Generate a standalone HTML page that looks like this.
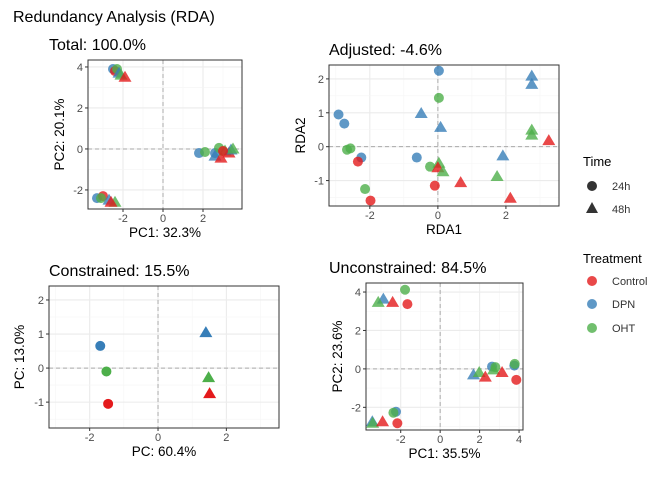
<!DOCTYPE html>
<html><head><meta charset="utf-8"><style>
body{margin:0;background:#fff;}
svg text{font-family:"Liberation Sans",sans-serif;}
</style></head><body>
<svg id="c" width="672" height="480" xmlns="http://www.w3.org/2000/svg">
<text x="13" y="22" font-size="16" fill="#000">Redundancy Analysis (RDA)</text>
<g>
<text x="583" y="166" font-size="13">Time</text>
<circle cx="592" cy="186" r="5" fill="#333"/>
<text x="612" y="190" font-size="11" fill="#333">24h</text>
<polygon points="592,202 598,213 586,213" fill="#333"/>
<text x="612" y="213" font-size="11" fill="#333">48h</text>
<text x="583" y="263" font-size="13">Treatment</text>
<circle cx="592" cy="281" r="5" fill="#E41A1C" fill-opacity="0.8"/>
<text x="612" y="285" font-size="11" fill="#333">Control</text>
<circle cx="592" cy="304" r="5" fill="#377EB8" fill-opacity="0.8"/>
<text x="612" y="308" font-size="11" fill="#333">DPN</text>
<circle cx="592" cy="328" r="5" fill="#4DAF4A" fill-opacity="0.8"/>
<text x="612" y="332" font-size="11" fill="#333">OHT</text>
</g>
</svg>
<script>
// C=Control, D=DPN, O=OHT ; time 24 circle, 48 triangle
const totalX=[-2.5,-2.4,-2.3,-2.2,-2.1,-1.9, 1.8,2.1,2.6,2.8,2.6,2.9,3.1,3.3,3.4,3.5,3.0, -3.3,-3.0,-3.1,-2.7,-2.4,-2.6];
const totalY=[3.9,3.8,3.9,3.7,3.6,3.5, -0.2,-0.15,-0.2,0.05,-0.35,-0.45,-0.1,-0.2,-0.05,0.0,-0.1, -2.4,-2.3,-2.4,-2.5,-2.6,-2.6];
const totalT=["D","C","O","D","O","C","D","O","D","O","D","C","O","C","D","O","C","D","C","O","D","O","C"];
const totalH=[24,24,24,48,48,48,24,24,24,24,48,48,48,48,48,48,24,24,24,24,48,48,48];
const adjX=[0.03,0.03,-2.92,-2.75,-0.49,0.08,2.76,2.76,2.76,2.76,3.26,-2.67,-2.57,-2.25,-2.35,-0.62,-0.23,0.03,0,0.15,1.91,1.74,0.67,-0.09,-2.14,-1.98,2.13];
const adjY=[2.24,1.44,0.95,0.68,0.98,0.57,2.08,1.84,0.49,0.34,0.18,-0.09,-0.05,-0.32,-0.44,-0.32,-0.59,-0.49,-0.62,-0.74,-0.27,-0.88,-1.06,-1.15,-1.25,-1.59,-1.52];
const adjT=["D","O","D","D","D","D","D","D","O","O","C","O","O","D","C","D","O","O","C","O","D","O","C","C","O","C","C"];
const adjH=[24,24,24,24,48,48,48,48,48,48,48,24,24,24,24,24,24,48,48,48,48,48,48,24,24,24,48];
const conX=[-1.69,-1.51,-1.46,1.4,1.48,1.51];
const conY=[0.65,-0.1,-1.05,1.04,-0.28,-0.75];
const conT=["D","O","C","D","O","C"];
const conH=[24,24,24,48,48,48];
const uncX=[-1.78,-1.66,-2.88,-3.14,-2.41,-2.24,-2.37,-2.17,-3.44,-3.42,-2.92,1.69,1.98,2.29,2.63,2.8,2.71,3.14,3.76,3.78,3.86];
const uncY=[4.12,3.37,3.63,3.46,3.46,-2.23,-2.28,-2.83,-2.75,-2.83,-2.75,-0.31,-0.19,-0.43,0.12,0.09,-0.05,-0.19,0.17,0.26,-0.57];
const uncT=["O","C","D","O","C","D","O","C","D","O","C","D","O","C","D","O","O","C","D","O","C"];
const uncH=[24,24,48,48,48,24,24,24,48,48,48,48,48,48,24,24,48,48,24,24,24];
const colors={C:"#E41A1C",D:"#377EB8",O:"#4DAF4A"};
const NS="http://www.w3.org/2000/svg";
const svg=document.getElementById('c');
function mk(tag,at,parent){const e=document.createElementNS(NS,tag);for(const k in at)e.setAttribute(k,at[k]);(parent||svg).appendChild(e);return e;}
function panel(p){
  const g=mk('g',{});
  
  
  const sx=v=>p.x0+(v-p.xr[0])/(p.xr[1]-p.xr[0])*(p.x1-p.x0);
  const sy=v=>p.y1-(v-p.yr[0])/(p.yr[1]-p.yr[0])*(p.y1-p.y0);
  const t=mk('text',{x:p.tx,y:p.y0-10,'font-size':16},g);t.textContent=p.title;
  
  
  mk('rect',{x:p.x0,y:p.y0,width:p.x1-p.x0,height:p.y1-p.y0,fill:'#fff'},g);
  const xs=p.xb, ys=p.yb;
  const step=xs[1]-xs[0], ystep=ys[1]-ys[0];
  for(let v=xs[0]-step*2;v<=xs[xs.length-1]+step*2;v+=step/2){const X=sx(v);if(X>p.x0&&X<p.x1){const major=Math.abs(v/step-Math.round(v/step))<1e-6;mk('line',{x1:X,x2:X,y1:p.y0,y2:p.y1,stroke:major?'#EBEBEB':'#F5F5F5','stroke-width':major?1.1:0.6},g);}}
  for(let v=ys[0]-ystep*2;v<=ys[ys.length-1]+ystep*2;v+=ystep/2){const Y=sy(v);if(Y>p.y0&&Y<p.y1){const major=Math.abs(v/ystep-Math.round(v/ystep))<1e-6;mk('line',{x1:p.x0,x2:p.x1,y1:Y,y2:Y,stroke:major?'#EBEBEB':'#F5F5F5','stroke-width':major?1.1:0.6},g);}}
  mk('line',{x1:sx(0),x2:sx(0),y1:p.y0,y2:p.y1,stroke:'#aaa','stroke-dasharray':'4,3'},g);
  mk('line',{x1:p.x0,x2:p.x1,y1:sy(0),y2:sy(0),stroke:'#aaa','stroke-dasharray':'4,3'},g);
  for(let i=0;i<p.X.length;i++){
    const X=sx(p.X[i]),Y=sy(p.Y[i]),c=colors[p.T[i]];
    let e;
    if(p.H[i]===24) e=mk('circle',{cx:X,cy:Y,r:5,fill:c,'fill-opacity':p.op},g);
    else e=mk('polygon',{points:`${X},${Y-6.5} ${X+6.5},${Y+4.5} ${X-6.5},${Y+4.5}`,fill:c,'fill-opacity':p.op},g);
    
    
  }
  mk('rect',{x:p.x0,y:p.y0,width:p.x1-p.x0,height:p.y1-p.y0,fill:'none',stroke:'#333','stroke-width':1},g);
  xs.forEach(v=>{const X=sx(v);mk('line',{x1:X,x2:X,y1:p.y1,y2:p.y1+3,stroke:'#333'},g);const l=mk('text',{x:X,y:p.y1+13,'font-size':11,fill:'#4d4d4d','text-anchor':'middle'},g);l.textContent=v;
    
    });
  ys.forEach(v=>{const Y=sy(v);mk('line',{x1:p.x0-3,x2:p.x0,y1:Y,y2:Y,stroke:'#333'},g);const l=mk('text',{x:p.x0-5,y:Y+4,'font-size':11,fill:'#4d4d4d','text-anchor':'end'},g);l.textContent=v;
    
    });
  const xt=mk('text',{x:(p.x0+p.x1)/2,y:p.y1+28,'font-size':13.5,'text-anchor':'middle'},g);xt.textContent=p.xl;
  
  
  const yt=mk('text',{x:0,y:0,'font-size':13.5,'text-anchor':'middle',transform:`translate(${p.ylx},${(p.y0+p.y1)/2}) rotate(-90)`},g);yt.textContent=p.yl;
  
  
}
panel({name:'panel-total',title:'Total: 100.0%',tx:49,x0:88,x1:242,y0:60,y1:209,xr:[-3.75,3.95],yr:[-2.93,4.34],xb:[-2,0,2],yb:[-2,0,2,4],X:totalX,Y:totalY,T:totalT,H:totalH,op:0.8,xl:'PC1: 32.3%',yl:'PC2: 20.1%',ylx:64});
panel({name:'panel-adjusted',title:'Adjusted: -4.6%',tx:329,x0:329,x1:559,y0:65,y1:206,xr:[-3.2,3.56],yr:[-1.75,2.41],xb:[-2,0,2],yb:[-1,0,1,2],X:adjX,Y:adjY,T:adjT,H:adjH,op:0.8,xl:'RDA1',yl:'RDA2',ylx:305});
panel({name:'panel-constrained',title:'Constrained: 15.5%',tx:49,x0:49,x1:279,y0:286,y1:428,xr:[-3.19,3.54],yr:[-1.76,2.41],xb:[-2,0,2],yb:[-1,0,1,2],X:conX,Y:conY,T:conT,H:conH,op:1,xl:'PC: 60.4%',yl:'PC: 13.0%',ylx:24});
panel({name:'panel-unconstrained',title:'Unconstrained: 84.5%',tx:329,x0:366,x1:523,y0:283,y1:430,xr:[-3.76,4.2],yr:[-3.18,4.47],xb:[-2,0,2,4],yb:[-2,0,2,4],X:uncX,Y:uncY,T:uncT,H:uncH,op:0.8,xl:'PC1: 35.5%',yl:'PC2: 23.6%',ylx:342});
</script>
</body></html>
